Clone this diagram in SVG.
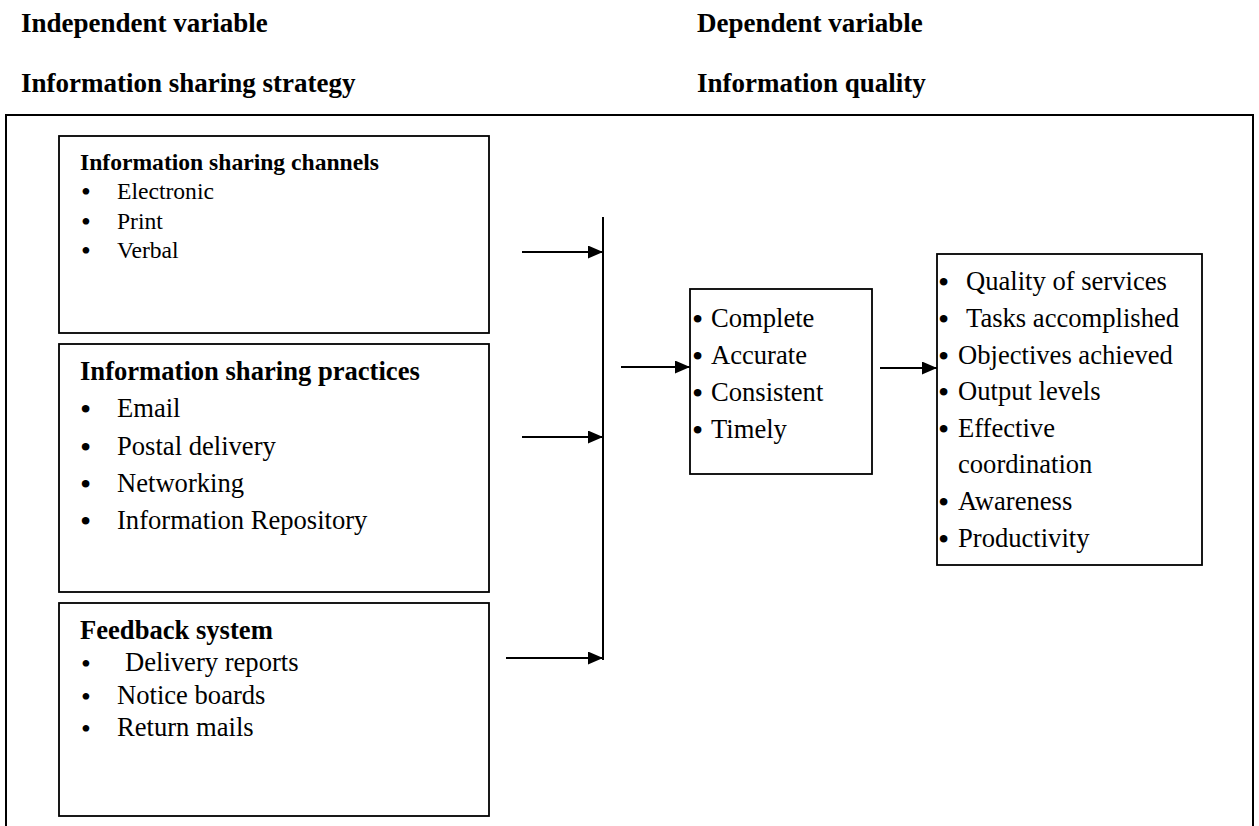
<svg xmlns="http://www.w3.org/2000/svg" width="1259" height="826" viewBox="0 0 1259 826">
<style>
.h{font-family:"Liberation Serif",serif;font-weight:bold;font-size:27px;fill:#000}
.t{font-family:"Liberation Serif",serif;font-size:26.6px;fill:#000}
.ts{font-family:"Liberation Serif",serif;font-size:23.6px;fill:#000}
.b{font-family:"Liberation Serif",serif;font-weight:bold;font-size:26.6px;fill:#000}
.bs{font-family:"Liberation Serif",serif;font-weight:bold;font-size:23.6px;fill:#000}
.bl{font-family:"Liberation Serif",serif;font-size:32px;fill:#000}
.bls{font-family:"Liberation Serif",serif;font-size:28px;fill:#000}
.box{fill:#fff;stroke:#000;stroke-width:1.8}
.ln{stroke:#000;stroke-width:2;fill:none}
</style>
<defs>
<marker id="ah" markerWidth="15" markerHeight="13" refX="15" refY="6.5" orient="auto" markerUnits="userSpaceOnUse">
<path d="M0,0 L15,6.5 L0,13 Z" fill="#000"/>
</marker>
</defs>
<rect width="1259" height="826" fill="#fff"/>
<g id="headers">
<text class="h" x="21" y="32">Independent variable</text>
<text class="h" x="21" y="92">Information sharing strategy</text>
<text class="h" x="697" y="32">Dependent variable</text>
<text class="h" x="697" y="92">Information quality</text>
</g>
<g id="frame">
<path class="ln" d="M6,826 L6,115 L1253,115 L1253,826"/>
</g>
<g id="channels">
<rect class="box" x="59" y="136" width="430" height="197"/>
<text class="bs" x="80" y="170">Information sharing channels</text>
<text class="bls" x="81" y="201">•</text><text class="ts" x="117" y="199">Electronic</text>
<text class="bls" x="81" y="231">•</text><text class="ts" x="117" y="229">Print</text>
<text class="bls" x="81" y="260">•</text><text class="ts" x="117" y="258">Verbal</text>
</g>
<g id="practices">
<rect class="box" x="59" y="344" width="430" height="248"/>
<text class="b" x="80" y="380">Information sharing practices</text>
<text class="bl" x="80" y="420">•</text><text class="t" x="117" y="417">Email</text>
<text class="bl" x="80" y="458">•</text><text class="t" x="117" y="455">Postal delivery</text>
<text class="bl" x="80" y="495">•</text><text class="t" x="117" y="492">Networking</text>
<text class="bl" x="80" y="532">•</text><text class="t" x="117" y="529">Information Repository</text>
</g>
<g id="feedback">
<rect class="box" x="59" y="603" width="430" height="213"/>
<text class="b" x="80" y="639">Feedback system</text>
<text class="bls" x="81" y="673">•</text><text class="t" x="125" y="671">Delivery reports</text>
<text class="bls" x="81" y="706">•</text><text class="t" x="117" y="704">Notice boards</text>
<text class="bls" x="81" y="738">•</text><text class="t" x="117" y="736">Return mails</text>
</g>
<g id="quality">
<rect class="box" x="690" y="289" width="182" height="185"/>
<text class="bl" x="692" y="330">•</text><text class="t" x="711" y="327">Complete</text>
<text class="bl" x="692" y="367">•</text><text class="t" x="711" y="364">Accurate</text>
<text class="bl" x="692" y="404">•</text><text class="t" x="711" y="401">Consistent</text>
<text class="bl" x="692" y="441">•</text><text class="t" x="711" y="438">Timely</text>
</g>
<g id="outcomes">
<rect class="box" x="937" y="254" width="265" height="311"/>
<text class="bl" x="938" y="293">•</text><text class="t" x="966" y="290">Quality of services</text>
<text class="bl" x="938" y="330">•</text><text class="t" x="966" y="327">Tasks accomplished</text>
<text class="bl" x="938" y="367">•</text><text class="t" x="958" y="364">Objectives achieved</text>
<text class="bl" x="938" y="403">•</text><text class="t" x="958" y="400">Output levels</text>
<text class="bl" x="938" y="440">•</text><text class="t" x="958" y="437">Effective</text>
<text class="t" x="958" y="473">coordination</text>
<text class="bl" x="938" y="513">•</text><text class="t" x="958" y="510">Awareness</text>
<text class="bl" x="938" y="550">•</text><text class="t" x="958" y="547">Productivity</text>
</g>
<g id="connectors">
<line class="ln" x1="603" y1="217" x2="603" y2="660"/>
<line class="ln" x1="522" y1="252" x2="603" y2="252" marker-end="url(#ah)"/>
<line class="ln" x1="522" y1="437" x2="603" y2="437" marker-end="url(#ah)"/>
<line class="ln" x1="506" y1="658" x2="603" y2="658" marker-end="url(#ah)"/>
<line class="ln" x1="621" y1="367" x2="690" y2="367" marker-end="url(#ah)"/>
<line class="ln" x1="880" y1="368" x2="937" y2="368" marker-end="url(#ah)"/>
</g>
</svg>
